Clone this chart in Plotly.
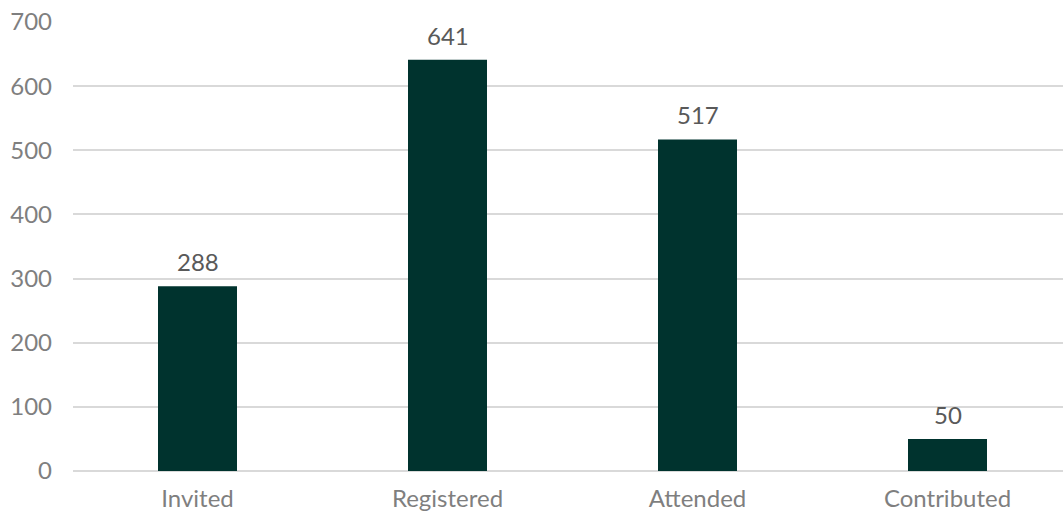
import plotly.graph_objects as go

categories = ["Invited", "Registered", "Attended", "Contributed"]
counts = [288, 641, 517, 50]
y_ticks = [0, 100, 200, 300, 400, 500, 600, 700]

bar_color = "#00332E"
grid_color = "#D9D9D9"
tick_color = "#7F7F7F"
label_color = "#595959"
font_family = "Lato, Carlito, 'Open Sans', sans-serif"

fig = go.Figure()
fig.add_trace(go.Bar(
    x=list(range(len(categories))),
    y=counts,
    width=0.316,
    marker=dict(color=bar_color, line=dict(width=0)),
    hoverinfo="skip",
))

# value labels above each bar
for i, v in enumerate(counts):
    fig.add_annotation(
        x=i, y=v, text=str(v), showarrow=False,
        yanchor="bottom", yshift=8,
        font=dict(family=font_family, size=24, color=label_color),
    )

fig.update_layout(
    width=1063, height=514,
    margin=dict(l=73, r=0, t=22, b=43, autoexpand=False),
    paper_bgcolor="white", plot_bgcolor="white",
    showlegend=False,
    font=dict(family=font_family, size=24, color=tick_color),
    xaxis=dict(
        range=[-0.498, 3.462],
        tickmode="array",
        tickvals=list(range(len(categories))),
        ticktext=categories,
        showgrid=False, zeroline=False, showline=False,
        ticks="", ticklabelstandoff=11, automargin=False,
        tickfont=dict(family=font_family, size=24, color=tick_color),
    ),
    yaxis=dict(
        range=[0, 700],
        tickmode="array",
        tickvals=y_ticks,
        showgrid=True, gridcolor=grid_color, gridwidth=1.5,
        zeroline=True, zerolinecolor=grid_color, zerolinewidth=1.5,
        showline=False, ticks="", ticklabelstandoff=20, automargin=False,
        tickfont=dict(family=font_family, size=24, color=tick_color),
    ),
)

fig.write_html("out.html")
